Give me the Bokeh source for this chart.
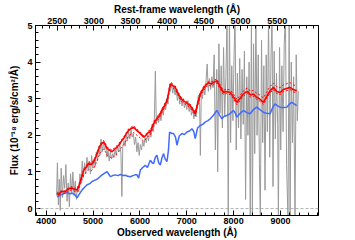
from bokeh.plotting import figure
from bokeh.models import Range1d, LinearAxis, FixedTicker, Span
from bokeh.embed import file_html
from bokeh.resources import INLINE

# ---------------- data ----------------
obs_ticks = [4000, 5000, 6000, 7000, 8000, 9000]
rest_ticks = [2500, 3000, 3500, 4000, 4500, 5000, 5500]
flux_ticks = [0, 1, 2, 3, 4, 5]

gray_w = [4222, 4240, 4260, 4280, 4300, 4320, 4345, 4370, 4395, 4420, 4445, 4470, 4495,
          4520, 4545, 4570, 4595, 4620, 4645, 4670, 4695, 4720, 4745, 4770, 4795, 4820,
          4845, 4870, 4895, 4920, 4945, 4970, 4995, 5020, 5045, 5070, 5095, 5120, 5145,
          5170, 5195, 5220, 5245, 5270, 5295, 5320, 5345, 5370, 5395, 5420, 5445, 5470,
          5495, 5520, 5545, 5570, 5595, 5615, 5635, 5660, 5685, 5710, 5735, 5760, 5785,
          5810, 5835, 5860, 5885, 5910, 5935, 5960, 5985, 6010, 6035, 6060, 6085, 6110,
          6135, 6160, 6185, 6210, 6235, 6260, 6285, 6310, 6330, 6350, 6375, 6400, 6425,
          6450, 6475, 6500, 6525, 6550, 6575, 6600, 6625, 6650, 6675, 6700, 6725, 6750,
          6775, 6800, 6825, 6850, 6875, 6900, 6925, 6950, 6975, 7000, 7025, 7050, 7075,
          7100, 7125, 7150, 7175, 7200, 7225, 7250, 7275, 7290, 7310, 7335, 7360, 7385,
          7410, 7435, 7460, 7485, 7510, 7535, 7560, 7585, 7610, 7640, 7660, 7685, 7710,
          7735, 7760, 7785, 7810, 7835, 7860, 7885, 7910, 7935, 7960, 7985, 8010, 8030,
          8055, 8080, 8105, 8130, 8155, 8180, 8205, 8230, 8255, 8280, 8305, 8330, 8355,
          8380, 8400, 8425, 8450, 8475, 8500, 8525, 8550, 8570, 8595, 8620, 8645, 8670,
          8695, 8720, 8745, 8770, 8795, 8820, 8840, 8865, 8890, 8915, 8940, 8955, 8980,
          9005, 9030, 9055, 9080, 9105, 9130, 9160, 9185, 9205, 9230, 9255, 9280, 9310,
          9335, 9360, 9380]
gray_f = [0.35, 1.25, 0.10, 0.80, -0.05, 1.10, 0.30, 0.90, 0.55, 1.20, 0.20, 0.70, 0.05,
          0.95, 0.40, 1.00, 0.35, 0.75, 0.25, 0.60, 0.45, 0.95, 0.70, 1.30, 0.85, 1.25,
          0.95, 1.40, 1.05, 1.30, 0.95, 1.45, 1.10, 1.35, 1.15, 1.55, 1.30, 1.70, 1.45,
          1.90, 1.55, 1.80, 1.60, 1.75, 1.40, 1.60, 1.30, 1.55, 1.35, 1.50, 1.40, 1.60,
          1.45, 1.70, 1.55, 1.80, 1.50, 0.33, 1.70, 1.85, 1.70, 2.00, 1.85, 2.10, 1.90,
          2.15, 1.95, 2.05, 1.75, 1.95, 1.55, 1.80, 1.45, 1.75, 1.60, 1.85, 1.70, 1.95,
          1.80, 2.00, 1.85, 2.15, 1.95, 2.30, 2.10, 2.50, 3.75, 2.30, 2.55, 2.35, 2.60,
          2.40, 2.75, 2.55, 2.85, 2.70, 3.00, 2.85, 3.30, 3.20, 3.45, 3.15, 3.35, 3.10,
          3.25, 2.95, 3.15, 2.85, 3.05, 2.80, 3.00, 2.75, 2.90, 2.70, 2.95, 2.65, 2.85,
          2.55, 2.75, 2.45, 2.65, 2.50, 2.90, 3.10, 2.85, 1.45, 3.20, 3.00, 3.35, 3.10,
          3.45, 3.95, 3.20, 3.55, 3.25, 3.60, 3.30, 4.20, 1.60, 3.80, 1.00, 4.50, 2.60,
          3.90, 2.20, 4.40, 2.50, 3.60, 5.30, -0.30, 5.30, 1.80, 3.90, 2.40, 4.20, 5.30,
          1.60, 3.70, 2.20, 4.10, 1.90, 3.80, 2.30, 4.30, 0.25, 3.60, 2.00, 4.00, -0.30,
          5.30, -0.30, 4.50, 1.50, 5.30, 2.00, 4.20, 1.20, -0.30, 4.60, 1.80, 3.90, 0.50,
          4.20, 2.10, 5.30, 1.40, 4.00, 5.30, 0.60, 4.30, 1.90, 3.70, 2.30, -0.30, 4.40,
          1.60, 3.90, 2.10, 4.50, 5.30, 1.20, -0.30, 5.30, -0.30, 4.00, 1.80, 3.60, -0.30,
          4.20, 2.40, 3.20]

red_w = [4234, 4270, 4300, 4341, 4390, 4447, 4500, 4554, 4600, 4660, 4700, 4730, 4770,
         4801, 4850, 4907, 4960, 5014, 5050, 5086, 5120, 5157, 5190, 5227, 5260, 5299,
         5350, 5406, 5460, 5512, 5560, 5610, 5653, 5700, 5760, 5810, 5866, 5920, 5972,
         6030, 6079, 6130, 6180, 6222, 6270, 6320, 6364, 6420, 6471, 6520, 6577, 6620,
         6648, 6700, 6754, 6800, 6861, 6920, 6980, 7030, 7074, 7130, 7180, 7230, 7287,
         7340, 7400, 7463, 7520, 7580, 7642, 7700, 7783, 7850, 7926, 8000, 8068, 8130,
         8190, 8245, 8300, 8360, 8422, 8480, 8550, 8635, 8700, 8770, 8848, 8920, 8991,
         9060, 9130, 9204, 9270, 9346]
red_f = [0.42, 0.38, 0.44, 0.47, 0.45, 0.51, 0.55, 0.56, 0.52, 0.51, 0.62, 0.74, 0.90,
         1.05, 1.12, 1.23, 1.20, 1.28, 1.38, 1.50, 1.62, 1.73, 1.78, 1.82, 1.74, 1.64,
         1.60, 1.55, 1.62, 1.68, 1.75, 1.85, 1.91, 2.02, 2.14, 2.18, 2.22, 2.15, 2.09,
         2.02, 1.95, 2.00, 2.08, 2.09, 2.25, 2.38, 2.45, 2.55, 2.68, 2.80, 2.95, 3.20,
         3.40, 3.36, 3.31, 3.18, 3.03, 2.95, 2.90, 2.85, 2.81, 2.70, 2.59, 2.85, 3.13,
         3.25, 3.36, 3.44, 3.40, 3.45, 3.49, 3.35, 3.17, 3.20, 3.17, 3.05, 2.90, 3.00,
         3.10, 3.17, 3.20, 3.10, 3.13, 3.05, 3.00, 2.90, 3.05, 3.20, 3.31, 3.20, 3.17,
         3.25, 3.28, 3.31, 3.25, 3.22]
red_hi = [0.45, 0.42, 0.47, 0.50, 0.49, 0.54, 0.58, 0.60, 0.56, 0.55, 0.66, 0.78, 0.94,
          1.09, 1.16, 1.27, 1.25, 1.33, 1.42, 1.54, 1.66, 1.77, 1.82, 1.86, 1.78, 1.68,
          1.64, 1.59, 1.66, 1.72, 1.79, 1.89, 1.95, 2.06, 2.18, 2.22, 2.26, 2.19, 2.13,
          2.06, 1.99, 2.04, 2.12, 2.13, 2.29, 2.42, 2.49, 2.59, 2.72, 2.84, 2.99, 3.24,
          3.44, 3.40, 3.35, 3.22, 3.07, 2.99, 2.94, 2.89, 2.85, 2.74, 2.63, 2.89, 3.17,
          3.29, 3.40, 3.48, 3.45, 3.50, 3.54, 3.40, 3.23, 3.26, 3.24, 3.12, 2.98, 3.08,
          3.18, 3.26, 3.29, 3.20, 3.23, 3.16, 3.11, 3.02, 3.17, 3.32, 3.43, 3.33, 3.30,
          3.38, 3.41, 3.44, 3.38, 3.35]
red_lo = [0.38, 0.34, 0.40, 0.43, 0.41, 0.46, 0.50, 0.51, 0.47, 0.45, 0.55, 0.66, 0.80,
          0.93, 0.98, 1.06, 1.03, 1.10, 1.20, 1.30, 1.42, 1.52, 1.58, 1.63, 1.56, 1.46,
          1.42, 1.37, 1.44, 1.50, 1.57, 1.67, 1.74, 1.85, 1.98, 2.03, 2.08, 2.02, 1.97,
          1.90, 1.84, 1.90, 1.98, 2.00, 2.17, 2.31, 2.39, 2.49, 2.62, 2.74, 2.89, 3.14,
          3.34, 3.30, 3.25, 3.12, 2.97, 2.89, 2.84, 2.79, 2.75, 2.64, 2.53, 2.79, 3.07,
          3.19, 3.30, 3.38, 3.34, 3.39, 3.43, 3.29, 3.11, 3.14, 3.11, 2.99, 2.84, 2.94,
          3.04, 3.11, 3.14, 3.04, 3.07, 2.99, 2.94, 2.84, 2.99, 3.14, 3.25, 3.14, 3.11,
          3.19, 3.22, 3.25, 3.19, 3.16]

blue_w = [4234, 4290, 4341, 4400, 4447, 4500, 4554, 4610, 4660, 4710, 4767, 4820, 4873,
          4930, 4980, 5030, 5086, 5140, 5193, 5250, 5299, 5340, 5370, 5420, 5476, 5530,
          5583, 5640, 5689, 5740, 5796, 5850, 5900, 5938, 5972, 6009, 6060, 6115, 6160,
          6222, 6260, 6292, 6330, 6364, 6400, 6435, 6470, 6505, 6540, 6577, 6610, 6633,
          6680, 6718, 6760, 6790, 6840, 6897, 6950, 7003, 7060, 7110, 7150, 7180, 7230,
          7287, 7340, 7393, 7450, 7500, 7570, 7642, 7700, 7749, 7800, 7855, 7930, 7996,
          8030, 8068, 8140, 8209, 8280, 8351, 8420, 8494, 8560, 8635, 8700, 8778, 8830,
          8884, 8940, 8991, 9060, 9133, 9190, 9240, 9300, 9346]
blue_f = [0.32, 0.36, 0.38, 0.42, 0.44, 0.40, 0.42, 0.38, 0.29, 0.40, 0.51, 0.58, 0.65,
          0.68, 0.74, 0.77, 0.80, 0.86, 0.92, 0.97, 1.01, 0.93, 0.87, 0.90, 0.92, 0.90,
          0.93, 0.90, 0.91, 0.88, 0.87, 0.90, 0.92, 0.92, 0.83, 1.05, 1.12, 1.18, 1.12,
          1.32, 1.25, 1.23, 1.40, 1.46, 1.25, 1.19, 1.38, 1.50, 1.35, 1.28, 1.60, 2.09,
          2.05, 2.05, 1.95, 1.73, 1.98, 2.05, 2.02, 2.09, 2.12, 2.18, 2.10, 1.91, 2.20,
          2.27, 2.30, 2.36, 2.40, 2.45, 2.55, 2.68, 2.55, 2.45, 2.52, 2.54, 2.60, 2.68,
          2.62, 2.50, 2.60, 2.68, 2.62, 2.59, 2.70, 2.77, 2.70, 2.63, 2.60, 2.59, 2.75,
          2.86, 2.80, 2.77, 2.76, 2.77, 2.85, 2.90, 2.85, 2.81]

# ---------------- figure ----------------
FONT = "Liberation Sans"

p = figure(width=355, height=240, output_backend="svg", toolbar_location=None,
           x_range=Range1d(3772, 9811), y_range=Range1d(-0.19, 5.0),
           x_axis_label="Observed wavelength (Å)",
           y_axis_label="Flux (10⁻¹⁸ erg/s/cm²/Å)",
           min_border_left=35, min_border_right=37, min_border_top=24, min_border_bottom=24)
p.extra_x_ranges = {"rest": Range1d(2204, 6063)}
p.xgrid.visible = False
p.ygrid.visible = False
p.outline_line_color = "black"
p.outline_line_width = 1
p.background_fill_color = "white"
p.border_fill_color = "white"

bottom = p.below[0]
left = p.left[0]
top = LinearAxis(x_range_name="rest", axis_label="Rest-frame wavelength (Å)")
p.add_layout(top, "above")

bottom.ticker = FixedTicker(ticks=obs_ticks,
                            minor_ticks=[3800 + 200 * i for i in range(31)])
top.ticker = FixedTicker(ticks=rest_ticks,
                         minor_ticks=[2300 + 100 * i for i in range(38)])
left.ticker = FixedTicker(ticks=flux_ticks,
                          minor_ticks=[round(0.2 * i, 1) for i in range(26)])

for ax in [bottom, left, top]:
    ax.axis_line_color = "black"
    ax.axis_line_width = 1
    ax.major_tick_in = 5
    ax.major_tick_out = 0
    ax.minor_tick_in = 3
    ax.minor_tick_out = 0
    ax.major_tick_line_color = "black"
    ax.minor_tick_line_color = "black"
    ax.major_label_text_font = FONT
    ax.major_label_text_font_size = "9px"
    ax.major_label_text_font_style = "bold"
    ax.major_label_text_color = "black"
    ax.axis_label_text_font = FONT
    ax.axis_label_text_font_size = "10px"
    ax.axis_label_text_font_style = "bold"
    ax.axis_label_text_color = "black"

bottom.major_label_standoff = 2
bottom.axis_label_standoff = 0
top.major_label_standoff = 2
top.axis_label_standoff = 0
left.major_label_standoff = 3
left.axis_label_standoff = 4

zero = Span(location=0, dimension="width", line_color="#a0a0a0",
            line_dash="3 2", line_width=0.8)
p.add_layout(zero)

p.line(gray_w, gray_f, line_color="#9a9a9a", line_width=1)
p.line(blue_w, blue_f, line_color="#3f6cff", line_width=1.5)
p.line(red_w, red_hi, line_color="#ff0000", line_width=1, line_dash="2 2")
p.line(red_w, red_lo, line_color="#ff0000", line_width=1, line_dash="2 2")
p.line(red_w, red_f, line_color="#ff0000", line_width=1.6)

open("out.html", "w").write(file_html(p, INLINE))
